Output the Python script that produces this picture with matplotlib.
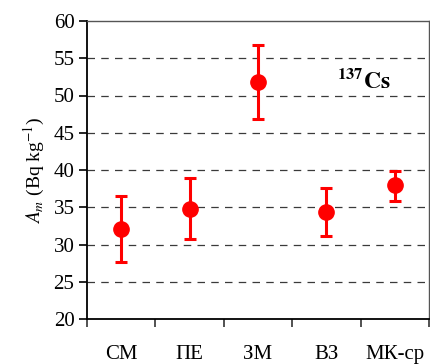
import matplotlib
matplotlib.use("Agg")
import matplotlib.pyplot as plt
import numpy as np

categories = ["СМ", "ПЕ", "ЗМ", "ВЗ", "МК-ср"]
values = [32.1, 34.7, 51.8, 34.4, 38.0]
err_upper = [36.5, 38.9, 56.8, 37.6, 39.9]
err_lower = [27.7, 30.7, 46.9, 31.1, 35.9]
y_ticks = [20, 25, 30, 35, 40, 45, 50, 55, 60]

plt.rcParams['font.family'] = ['Liberation Serif', 'DejaVu Serif']
plt.rcParams['mathtext.fontset'] = 'stix'

fig = plt.figure(figsize=(4.3, 3.64), dpi=100)
ax = fig.add_axes([87/430, 45/364, 342/430, 298/364])

x = np.arange(len(categories)) + 0.5
vals = np.array(values)
yerr = np.array([vals - np.array(err_lower), np.array(err_upper) - vals])

for yv in y_ticks[1:-1]:
    ax.axhline(yv, color='#3a3a3a', lw=0.9, ls=(0, (6, 5)), zorder=1)

ax.errorbar(x, vals, yerr=yerr, fmt='o', color='#ff0000', ecolor='#ff0000',
            markersize=11, elinewidth=2.2, capsize=4.5, capthick=2.2, zorder=3)

ax.set_xlim(0, 5)
ax.set_ylim(20, 60)
ax.set_yticks(y_ticks)
ax.set_xticks(x)
ax.set_xticklabels(categories)
ax.set_xticks(np.arange(0, 6), minor=True)
ax.tick_params(axis='x', which='major', length=0, labelsize=15, pad=19)
ax.tick_params(axis='x', which='minor', length=6, width=1.2, direction='out', color='#333333')
ax.tick_params(axis='y', length=6, width=1.2, direction='out', labelsize=15, pad=3)

for side in ['left', 'bottom']:
    ax.spines[side].set_linewidth(1.3)
    ax.spines[side].set_color('black')
for side in ['top', 'right']:
    ax.spines[side].set_linewidth(1.0)
    ax.spines[side].set_color('#555555')

ax.set_ylabel(r"$A_m$ (Bq kg$^{-1}$)", fontsize=14, labelpad=5)

ax.text(4.05, 52.0, r"$\mathbf{^{137}Cs}$", fontsize=17, ha='center', va='center',
        bbox=dict(facecolor='white', edgecolor='none', pad=2), zorder=2)

fig.savefig("out.png", dpi=100)
